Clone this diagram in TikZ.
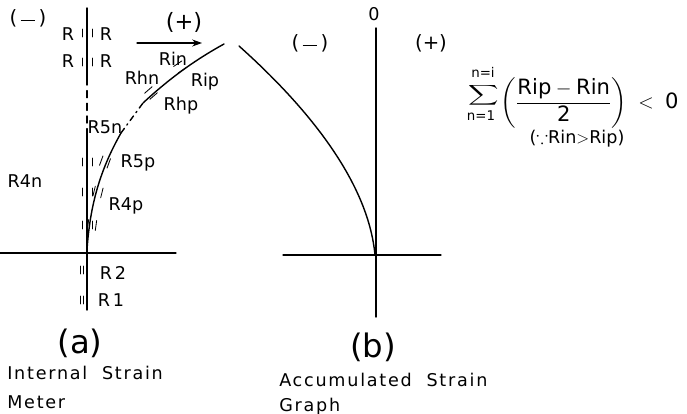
\documentclass[tikz,border=0pt]{standalone}
\usepackage{fontspec}
\usepackage{amsmath,amssymb,graphicx}
\setmainfont{DejaVu Sans}
\usetikzlibrary{arrows.meta}
\tikzset{
  lbl/.style={font=\fontsize{12.5}{14}\selectfont, inner sep=1pt},
  sgn/.style={font=\fontsize{14}{16}\selectfont, inner sep=1pt},
  lim/.style={font=\fontsize{9.5}{10}\selectfont, inner sep=0pt},
  captext/.style={font=\fontsize{12.5}{14}\selectfont\addfontfeature{LetterSpace=10}, inner sep=0pt, anchor=west},
  gauge/.style={line width=0.6pt},
}
\newcommand{\minussign}{(\,\rule[0.32ex]{0.75em}{0.7pt}\,)}
\begin{document}
\begin{tikzpicture}[x=0.025cm, y=-0.025cm, line cap=round]
  \useasboundingbox (0,0) rectangle (687,414);

  % (a) Internal strain meter
  \draw[line width=1pt] (87,8) -- (87,78);
  \draw[line width=1pt, dash pattern=on 5pt off 4pt] (87,78) -- (87,136);
  \draw[line width=1pt] (87,136) -- (87,310);
  \draw[line width=0.9pt] (0,253) -- (176,253);

  % deformed line
  \draw[line width=1pt] (87,250) .. controls (90,205) and (100,170) .. (121,133);
  \draw[line width=1pt, dash pattern=on 4pt off 3pt on 1pt off 3pt] (121,133) -- (143,103);
  \draw[line width=1pt] (143,103) .. controls (170,78) and (195,60) .. (224,44);

  % gauges on the straight line
  \foreach \y in {33, 62, 162, 192, 225} {
    \draw[gauge] (82,\y-4) -- (82,\y+4);
    \draw[gauge] (92,\y-4) -- (92,\y+4);
  }
  \foreach \y in {270, 300} {
    \draw[gauge] (80,\y-4) -- (80,\y+4);
    \draw[gauge] (83,\y-4) -- (83,\y+4);
  }

  % gauges on the bent line
  \foreach \x/\y/\r in {180/67/34, 151/93/41, 105/162/70, 98/192/76, 92/225/82} {
    \begin{scope}[shift={(\x,\y)}, rotate=\r]
      \draw[gauge] (-5,-4) -- (5,-4);
      \draw[gauge] (-5,4) -- (5,4);
    \end{scope}
  }

  % labels (a)
  \node[sgn] (minA) at (28,18) {\minussign};
  \node[sgn, font=\fontsize{16}{18}\selectfont] (plusA) at (184,22) {(+)};
  \node[lbl] (rl1) at (68,34) {R};
  \node[lbl] (rr1) at (106,34) {R};
  \node[lbl] (rl2) at (68,61) {R};
  \node[lbl] (rr2) at (106,61) {R};
  \node[lbl] (rin) at (173,59) {Rin};
  \node[lbl] (rip) at (205,82) {Rip};
  \node[lbl] (rhn) at (142,78) {Rhn};
  \node[lbl] (rhp) at (181,106) {Rhp};
  \node[lbl] (r5n) at (105,127) {R5n};
  \node[lbl] (r5p) at (138,163) {R5p};
  \node[lbl] (r4n) at (25,181) {R4n};
  \node[lbl] (r4p) at (126,206) {R4p};
  \node[lbl] (r2) at (113,273) {R\,2};
  \node[lbl] (r1) at (111,300) {R\,1};
  \coordinate (arrS) at (137,43);
  \coordinate (arrE) at (202,43);
  \draw[line width=0.8pt, -{Stealth[length=7pt, width=5pt]}] (arrS) -- (arrE);

  \node[font=\fontsize{23}{25}\selectfont, inner sep=0pt] (capA) at (80,343) {(a)};
  \node[captext] (txtA1) at (7,373) {Internal\ \ Strain};
  \node[captext] (txtA2) at (7,402) {Meter};

  % (b) Accumulated strain graph
  \draw[line width=1pt] (376,28) -- (376,317);
  \draw[line width=0.9pt] (283,255) -- (441,255);
  \draw[line width=1pt] (239,46) .. controls (305,105) and (368,180) .. (375,255);

  \node[lbl] (zero) at (374,14) {0};
  \node[sgn] (minB) at (310,43) {\minussign};
  \node[sgn] (plusB) at (431,43) {(+)};
  \node[font=\fontsize{23}{25}\selectfont, inner sep=0pt] (capB) at (373,347) {(b)};
  \node[captext] (txtB1) at (279,380) {Accumulated\ \ Strain};
  \node[captext] (txtB2) at (279,407) {Graph};

  % summation
  \node[inner sep=0pt, font=\fontsize{10}{11}\selectfont] (sigma) at (484,95) {\scalebox{1.5}[1]{$\displaystyle\sum$}};
  \node[lim] (nI) at (483,72) {n=i};
  \node[lim] (nOne) at (481,116) {n=1};
  \node[inner sep=0pt, anchor=west, font=\fontsize{15}{16}\selectfont] (frac) at (500,103)
    {$\left(\dfrac{\text{Rip}-\text{Rin}}{\text{2}}\right)\;<\;\text{0}$};
  \node[lbl] (cond) at (577,139) {($\because$Rin$>$Rip)};
\end{tikzpicture}
\end{document}
